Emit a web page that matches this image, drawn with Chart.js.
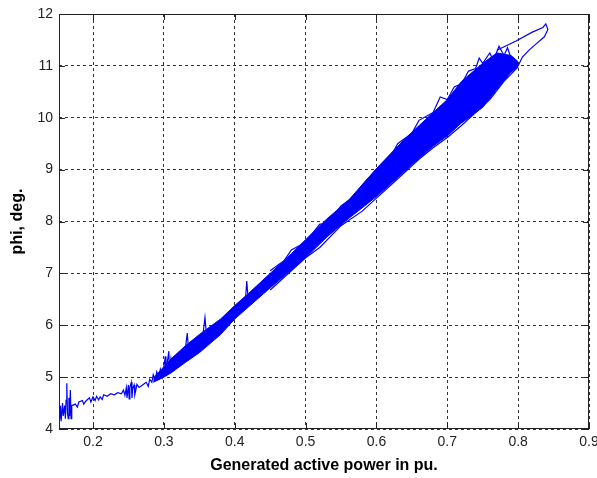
<!DOCTYPE html>
<html>
<head>
<meta charset="utf-8">
<script src="https://cdn.jsdelivr.net/npm/chart.js@4.4.0/dist/chart.umd.min.js"></script>
<style>
  html, body { margin: 0; padding: 0; background: #fff; }
  #wrap { width: 597px; height: 478px; }
</style>
</head>
<body>
<div id="wrap"><canvas id="c" width="597" height="478"></canvas></div>
<script>
/* ── Data (P in pu, phi in deg) ────────────────────────────────────────── */
const xTicks = [0.2, 0.3, 0.4, 0.5, 0.6, 0.7, 0.8, 0.9];
const yTicks = [4, 5, 6, 7, 8, 9, 10, 11, 12];

// thin noisy trace at low power, with the spikes
const lowTrace = [
  [0.153,4.2],[0.154,4.45],[0.155,4.15],[0.157,4.5],[0.158,4.25],[0.16,4.45],[0.161,4.2],
  [0.162,4.55],[0.163,4.88],[0.164,4.3],[0.165,4.2],[0.166,4.6],[0.167,4.25],[0.168,4.75],
  [0.169,4.2],[0.17,4.45],[0.175,4.48],[0.178,4.42],[0.18,4.52],[0.185,4.55],[0.187,4.48],
  [0.19,4.54],[0.195,4.6],[0.197,4.52],[0.2,4.62],[0.203,4.55],[0.205,4.63],[0.208,4.56],
  [0.21,4.62],[0.213,4.57],[0.215,4.66],[0.22,4.63],[0.225,4.68],[0.23,4.66],[0.235,4.7],
  [0.24,4.68],[0.243,4.75],[0.245,4.65],[0.247,4.8],[0.248,4.6],[0.25,4.85],[0.251,4.58],
  [0.252,4.8],[0.254,4.9],[0.255,4.6],[0.256,4.78],[0.258,4.85],[0.259,4.66],[0.26,4.72],
  [0.262,4.86],[0.265,4.8],[0.27,4.85],[0.275,4.9],[0.278,4.82],[0.28,4.96],[0.283,4.9],
  [0.285,5.05],[0.288,4.95],[0.29,5.1],[0.293,4.98],[0.295,5.15],[0.298,5.0],[0.3,5.2],
  [0.302,5.4],[0.303,5.02],[0.305,5.3],[0.307,5.5],[0.308,5.1],[0.31,5.35],[0.312,5.15],
  [0.315,5.35],[0.317,5.22],[0.32,5.4],[0.325,5.4],[0.33,5.5],[0.333,5.85],[0.335,5.5],
  [0.34,5.6],[0.35,5.7],[0.355,5.8],[0.358,6.15],[0.36,5.85],[0.37,5.95],[0.38,6.05],
  [0.39,6.15],[0.4,6.3],[0.41,6.4],[0.415,6.45],[0.417,6.85],[0.419,6.5],[0.425,6.55],
  [0.43,6.62],[0.44,6.75],[0.45,6.85]
];

// edges of the dense band
const bandX     = [0.285, 0.30, 0.31, 0.33, 0.35, 0.38, 0.40, 0.42, 0.45, 0.48, 0.50, 0.53,
                   0.56, 0.60, 0.63, 0.65, 0.68, 0.70, 0.72, 0.75, 0.77, 0.79, 0.80];
const bandUpper = [4.98, 5.2, 5.35, 5.6, 5.82, 6.12, 6.38, 6.62, 7.0, 7.38, 7.65, 8.05,
                   8.4, 9.02, 9.45, 9.72, 10.1, 10.35, 10.7, 11.05, 11.25, 11.2, 11.08];
const bandLower = [4.9, 5.0, 5.08, 5.28, 5.47, 5.82, 6.12, 6.36, 6.72, 7.07, 7.3, 7.7,
                   8.05, 8.48, 8.85, 9.1, 9.45, 9.65, 9.9, 10.2, 10.55, 10.88, 11.0];

// ragged edges along the band
const upperRagged = [
  [0.45,7.05],[0.47,7.25],[0.48,7.45],[0.5,7.6],[0.52,7.95],[0.53,7.95],[0.55,8.3],[0.57,8.5],
  [0.58,8.7],[0.6,9.0],[0.62,9.25],[0.63,9.5],[0.65,9.7],[0.66,9.95],[0.68,10.1],[0.69,10.4],
  [0.7,10.35],[0.71,10.6],[0.72,10.65],[0.73,10.9],[0.74,10.95],[0.745,11.15],[0.75,11.05],
  [0.76,11.25],[0.765,11.1],[0.773,11.38],[0.78,11.2],[0.785,11.35],[0.79,11.15]
];
const lowerRagged = [
  [0.45,6.68],[0.5,7.3],[0.52,7.5],[0.55,7.92],[0.58,8.2],[0.6,8.45],[0.62,8.7],[0.64,8.95],
  [0.66,9.2],[0.68,9.42],[0.7,9.62],[0.72,9.85],[0.74,10.1],[0.76,10.35],[0.78,10.7],
  [0.8,10.98]
];

// open loop at the top end
const loopTrace = [
  [0.77,11.3],[0.797,11.48],[0.82,11.65],[0.835,11.74],[0.839,11.81],[0.842,11.7],
  [0.837,11.56],[0.825,11.42],[0.815,11.3],[0.806,11.17],[0.8,11.0],[0.79,10.88]
];

/* ── Helpers ───────────────────────────────────────────────────────────── */
const BLUE = '#0000ff';
const pts = arr => arr.map(p => ({ x: p[0], y: p[1] }));
const zipPts = (xs, ys) => xs.map((x, i) => ({ x: x, y: ys[i] }));

function lineSet(data, extra) {
  return Object.assign({
    data: data, showLine: true, borderColor: BLUE, backgroundColor: BLUE,
    borderWidth: 1.2, pointRadius: 0, fill: false, tension: 0
  }, extra || {});
}

// box around the plot plus inward tick marks, MATLAB style
const boxPlugin = {
  id: 'box',
  afterDraw(chart) {
    const { ctx, chartArea: a, scales } = chart;
    ctx.save();
    ctx.strokeStyle = '#222';
    ctx.lineWidth = 1;
    ctx.setLineDash([]);
    ctx.strokeRect(a.left + 0.5, a.top + 0.5, a.right - a.left - 1, a.bottom - a.top - 1);
    const L = 6;
    ctx.beginPath();
    xTicks.forEach(v => {
      const px = Math.round(scales.x.getPixelForValue(v)) + 0.5;
      ctx.moveTo(px, a.bottom); ctx.lineTo(px, a.bottom - L);
      ctx.moveTo(px, a.top);    ctx.lineTo(px, a.top + L);
    });
    yTicks.forEach(v => {
      const py = Math.round(scales.y.getPixelForValue(v)) + 0.5;
      ctx.moveTo(a.left, py);  ctx.lineTo(a.left + L, py);
      ctx.moveTo(a.right, py); ctx.lineTo(a.right - L, py);
    });
    ctx.stroke();
    ctx.restore();
  }
};

const TICK_FONT  = { family: '"Liberation Sans", Arial, sans-serif', size: 14 };
const TITLE_FONT = { family: '"Liberation Sans", Arial, sans-serif', size: 16, weight: 'bold' };
const GRID   = { color: '#333', lineWidth: 1, drawTicks: false };
const BORDER = { display: false, dash: [3, 3] };   // v4: dash applies to grid lines

new Chart(document.getElementById('c').getContext('2d'), {
  type: 'scatter',
  data: {
    datasets: [
      lineSet(zipPts(bandX, bandUpper), { borderWidth: 1 }),
      lineSet(zipPts(bandX, bandLower), { borderWidth: 1, fill: '-1' }),
      lineSet(pts(upperRagged)),
      lineSet(pts(lowerRagged)),
      lineSet(pts(loopTrace)),
      lineSet(pts(lowTrace))
    ]
  },
  options: {
    responsive: false,
    animation: false,
    layout: { padding: { left: 0, right: 8, top: 14, bottom: 0 } },
    plugins: { legend: { display: false }, tooltip: { enabled: false } },
    scales: {
      x: {
        type: 'linear', min: 0.152, max: 0.9,
        afterBuildTicks: s => { s.ticks = xTicks.map(v => ({ value: v })); },
        afterFit: s => { s.height = 49; s.paddingLeft = 0; s.paddingRight = 0; },
        ticks: { font: TICK_FONT, color: '#222', padding: 5, maxRotation: 0,
                 callback: v => String(v) },
        grid: Object.assign({}, GRID),
        border: Object.assign({}, BORDER),
        title: { display: true, text: 'Generated active power in pu.', font: TITLE_FONT,
                 color: '#000', padding: { top: 2, bottom: 3 } }
      },
      y: {
        type: 'linear', min: 4, max: 12,
        afterBuildTicks: s => { s.ticks = yTicks.map(v => ({ value: v })); },
        afterFit: s => { s.width = 59; s.paddingTop = 0; s.paddingBottom = 0; },
        ticks: { font: TICK_FONT, color: '#222', padding: 6, callback: v => String(v) },
        grid: Object.assign({}, GRID),
        border: Object.assign({}, BORDER),
        title: { display: true, text: 'phi, deg.', font: TITLE_FONT,
                 color: '#000', padding: { top: 8, bottom: 0 } }
      }
    }
  },
  plugins: [boxPlugin]
});
</script>
</body>
</html>
